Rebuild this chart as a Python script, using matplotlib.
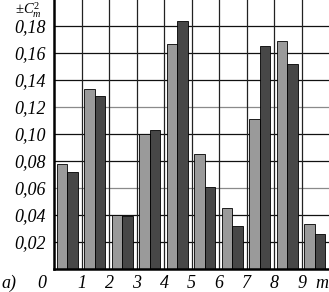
import matplotlib
matplotlib.use("Agg")
import matplotlib.pyplot as plt
import numpy as np

# values (one pair of bars per interval)
positions = [0, 1, 2, 3, 4, 5, 6, 7, 8, 9]
light_vals = [0.078, 0.133, 0.040, 0.100, 0.167, 0.085, 0.045, 0.111, 0.169, 0.033]
dark_vals = [0.072, 0.128, 0.039, 0.103, 0.184, 0.061, 0.032, 0.165, 0.152, 0.026]
y_ticks = [0.02, 0.04, 0.06, 0.08, 0.10, 0.12, 0.14, 0.16, 0.18]
y_labels = ["0,02", "0,04", "0,06", "0,08", "0,10", "0,12", "0,14", "0,16", "0,18"]
x_labels = ["1", "2", "3", "4", "5", "6", "7", "8", "9"]

plt.rcParams["font.family"] = ["Liberation Serif", "DejaVu Serif"]
plt.rcParams["mathtext.fontset"] = "custom"
plt.rcParams["mathtext.rm"] = "Liberation Serif"
plt.rcParams["mathtext.it"] = "Liberation Serif:italic"

fig = plt.figure(figsize=(3.29, 2.92), dpi=100)
ax = fig.add_axes([54 / 329, 23 / 292, 275 / 329, 270 / 292])

x = np.array(positions)
w = 0.38
# grid first, bars on top
for t in y_ticks:
    col = "#8a8a8a" if t in (0.06, 0.12) else "#111111"
    ax.axhline(t, color=col, linewidth=0.9, zorder=1)
for k in range(1, 10):
    ax.axvline(k, color="#222222", linewidth=0.9, zorder=1)

ax.bar(x + 0.1, light_vals, width=w, align="edge", color="#9a9a9a",
       edgecolor="black", linewidth=0.6, zorder=2)
ax.bar(x + 0.1 + w, dark_vals, width=w, align="edge", color="#474747",
       edgecolor="black", linewidth=0.6, zorder=2)

ax.set_xlim(0, 10)
ax.set_ylim(0, 0.2)
ax.set_yticks(y_ticks)
ax.set_yticklabels(y_labels, fontstyle="italic", fontsize=13)
ax.set_xticks([])
ax.tick_params(axis="y", length=0, pad=6)

for s in ["top", "right"]:
    ax.spines[s].set_visible(False)
ax.spines["left"].set_linewidth(1.8)
ax.spines["bottom"].set_linewidth(1.8)

# x labels sit on the grid lines
for k, lab in enumerate(x_labels, start=1):
    ax.text(k, -0.0105, lab, ha="center", va="center", fontsize=13,
            fontstyle="italic", clip_on=False)
ax.text(-0.45, -0.0105, "0", ha="center", va="center", fontsize=13,
        fontstyle="italic", clip_on=False)
ax.text(9.75, -0.0105, "m", ha="center", va="center", fontsize=13,
        fontstyle="italic", clip_on=False)
fig.text(1 / 329, 1 - 283 / 292, "a)", ha="left", va="center", fontsize=13,
         fontstyle="italic")
fig.text(15 / 329, 1 - 0.5 / 292, r"$\pm C_m^2$", ha="left", va="top",
         fontsize=10.5)

fig.savefig("out.png", dpi=100)
